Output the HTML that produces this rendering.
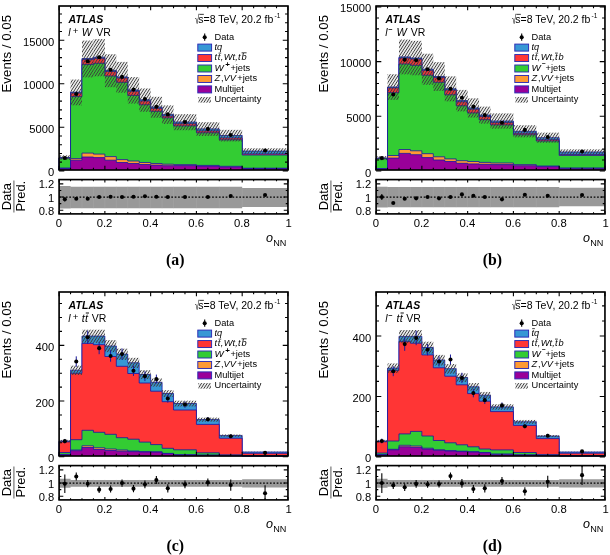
<!DOCTYPE html>
<html lang="en">
<head>
<meta charset="utf-8">
<title>Neural-network output distributions in validation regions</title>
<style>
html,body{margin:0;padding:0;background:#fff;}
body{width:610px;height:555px;overflow:hidden;}
svg{display:block;will-change:transform;}
</style>
</head>
<body>
<svg width="610" height="555" viewBox="0 0 610 555" font-family="'Liberation Sans', Arial, Helvetica, sans-serif" fill="#000">
<defs>
<pattern id="hatch" patternUnits="userSpaceOnUse" width="2.4" height="8" patternTransform="rotate(33)"><line x1="1.2" y1="0" x2="1.2" y2="8" stroke="#3c3c3c" stroke-width="0.98"/></pattern>
<clipPath id="rclip"><rect x="59.1" y="179.6" width="228.85" height="34.3"/></clipPath>
</defs>
<rect width="610" height="555" fill="#fff"/>
<g transform="translate(0,0)">
<polygon points="59.1,170 59.1,157.6 70.54,157.6 70.54,92.1 81.98,92.1 81.98,58.5 93.43,58.5 93.43,57.2 104.87,57.2 104.87,70.3 116.31,70.3 116.31,76.9 127.76,76.9 127.76,90 139.2,90 139.2,99.8 150.64,99.8 150.64,107 162.08,107 162.08,114.4 173.53,114.4 173.53,122 196.41,122 196.41,128.9 219.29,128.9 219.29,135.5 242.18,135.5 242.18,151.1 287.95,151.1 287.95,170" fill="#3797d5"/>
<path d="M59.1 170V157.6H70.54V92.1H81.98V58.5H93.43V57.2H104.87V70.3H116.31V76.9H127.76V90H139.2V99.8H150.64V107H162.08V114.4H173.53V122H196.41V128.9H219.29V135.5H242.18V151.1H287.95V170" fill="none" stroke="#1515a6" stroke-width="0.8"/>
<polygon points="59.1,170 59.1,157.9 70.54,157.9 70.54,93 81.98,93 81.98,59.6 93.43,59.6 93.43,58.3 104.87,58.3 104.87,71.4 116.31,71.4 116.31,78 127.76,78 127.76,91.2 139.2,91.2 139.2,101 150.64,101 150.64,108.3 162.08,108.3 162.08,115.9 173.53,115.9 173.53,123.7 196.41,123.7 196.41,130.9 219.29,130.9 219.29,137.9 242.18,137.9 242.18,153.9 287.95,153.9 287.95,170" fill="#ff3535"/>
<path d="M59.1 170V157.9H70.54V93H81.98V59.6H93.43V58.3H104.87V71.4H116.31V78H127.76V91.2H139.2V101H150.64V108.3H162.08V115.9H173.53V123.7H196.41V130.9H219.29V137.9H242.18V153.9H287.95V170" fill="none" stroke="#1515a6" stroke-width="0.8"/>
<polygon points="59.1,170 59.1,158.2 70.54,158.2 70.54,96.6 81.98,96.6 81.98,64.6 93.43,64.6 93.43,63.3 104.87,63.3 104.87,76 116.31,76 116.31,82.3 127.76,82.3 127.76,95.4 139.2,95.4 139.2,104.8 150.64,104.8 150.64,111.3 162.08,111.3 162.08,117.9 173.53,117.9 173.53,125.9 196.41,125.9 196.41,132.8 219.29,132.8 219.29,139.8 242.18,139.8 242.18,155 287.95,155 287.95,170" fill="#33cc33"/>
<path d="M59.1 170V158.2H70.54V96.6H81.98V64.6H93.43V63.3H104.87V76H116.31V82.3H127.76V95.4H139.2V104.8H150.64V111.3H162.08V117.9H173.53V125.9H196.41V132.8H219.29V139.8H242.18V155H287.95V170" fill="none" stroke="#1515a6" stroke-width="0.8"/>
<polygon points="59.1,170 59.1,168 70.54,168 70.54,158.6 81.98,158.6 81.98,153.1 93.43,153.1 93.43,154.1 104.87,154.1 104.87,156.6 116.31,156.6 116.31,159.6 127.76,159.6 127.76,161 139.2,161 139.2,162.5 150.64,162.5 150.64,163.5 162.08,163.5 162.08,164.2 173.53,164.2 173.53,164.6 196.41,164.6 196.41,165.4 219.29,165.4 219.29,166.3 242.18,166.3 242.18,168.2 287.95,168.2 287.95,170" fill="#ff9a33"/>
<path d="M59.1 170V168H70.54V158.6H81.98V153.1H93.43V154.1H104.87V156.6H116.31V159.6H127.76V161H139.2V162.5H150.64V163.5H162.08V164.2H173.53V164.6H196.41V165.4H219.29V166.3H242.18V168.2H287.95V170" fill="none" stroke="#1515a6" stroke-width="0.8"/>
<polygon points="59.1,170 59.1,168.5 70.54,168.5 70.54,160.2 81.98,160.2 81.98,157 93.43,157 93.43,157.6 104.87,157.6 104.87,160.2 116.31,160.2 116.31,162.5 127.76,162.5 127.76,163.5 139.2,163.5 139.2,164.5 150.64,164.5 150.64,165.1 162.08,165.1 162.08,165.7 173.53,165.7 173.53,165.6 196.41,165.6 196.41,166.1 219.29,166.1 219.29,166.9 242.18,166.9 242.18,168.5 287.95,168.5 287.95,170" fill="#990099"/>
<path d="M59.1 170V168.5H70.54V160.2H81.98V157H93.43V157.6H104.87V160.2H116.31V162.5H127.76V163.5H139.2V164.5H150.64V165.1H162.08V165.7H173.53V165.6H196.41V166.1H219.29V166.9H242.18V168.5H287.95V170" fill="none" stroke="#1515a6" stroke-width="0.8"/>
<rect x="59.1" y="155.33" width="11.44" height="4.54" fill="url(#hatch)"/>
<rect x="70.54" y="79.53" width="11.44" height="25.8" fill="url(#hatch)"/>
<rect x="81.98" y="40.56" width="11.44" height="36.81" fill="url(#hatch)"/>
<rect x="93.43" y="39.06" width="11.44" height="37.24" fill="url(#hatch)"/>
<rect x="104.87" y="54.25" width="11.44" height="32.95" fill="url(#hatch)"/>
<rect x="116.31" y="61.9" width="11.44" height="30.78" fill="url(#hatch)"/>
<rect x="127.76" y="77.09" width="11.44" height="26.49" fill="url(#hatch)"/>
<rect x="139.2" y="88.46" width="11.44" height="23.28" fill="url(#hatch)"/>
<rect x="150.64" y="96.81" width="11.44" height="20.92" fill="url(#hatch)"/>
<rect x="162.08" y="105.39" width="11.44" height="18.5" fill="url(#hatch)"/>
<rect x="173.53" y="114.2" width="22.88" height="16.01" fill="url(#hatch)"/>
<rect x="196.41" y="122.2" width="22.88" height="13.74" fill="url(#hatch)"/>
<rect x="219.29" y="129.86" width="22.89" height="11.58" fill="url(#hatch)"/>
<rect x="242.18" y="148.29" width="45.77" height="5.77" fill="url(#hatch)"/>
<circle cx="64.82" cy="158.06" r="2.05" fill="#000"/>
<circle cx="76.26" cy="94.07" r="2.05" fill="#000"/>
<circle cx="87.71" cy="61.31" r="2.05" fill="#000"/>
<circle cx="99.15" cy="57.2" r="2.05" fill="#000"/>
<circle cx="110.59" cy="69.8" r="2.05" fill="#000"/>
<circle cx="122.03" cy="76.9" r="2.05" fill="#000"/>
<circle cx="133.48" cy="89.6" r="2.05" fill="#000"/>
<circle cx="144.92" cy="98.95" r="2.05" fill="#000"/>
<circle cx="156.36" cy="106.68" r="2.05" fill="#000"/>
<circle cx="167.8" cy="114.4" r="2.05" fill="#000"/>
<circle cx="184.97" cy="122" r="2.05" fill="#000"/>
<circle cx="207.85" cy="128.9" r="2.05" fill="#000"/>
<circle cx="230.74" cy="134.97" r="2.05" fill="#000"/>
<circle cx="265.06" cy="150.51" r="2.05" fill="#000"/>
<rect x="59.1" y="179.6" width="228.85" height="34.3" fill="#fff"/>
<polygon points="59.1,186.09 70.54,186.09 70.54,186.82 81.98,186.82 81.98,186.82 93.43,186.82 93.43,186.82 104.87,186.82 104.87,186.82 116.31,186.82 116.31,186.82 127.76,186.82 127.76,186.82 139.2,186.82 139.2,186.82 150.64,186.82 150.64,186.82 162.08,186.82 162.08,186.82 173.53,186.82 173.53,186.82 196.41,186.82 196.41,186.82 219.29,186.82 219.29,186.82 242.18,186.82 242.18,187.94 287.95,187.94 287.95,206.95 242.18,206.95 242.18,208.14 219.29,208.14 219.29,208.14 196.41,208.14 196.41,208.14 173.53,208.14 173.53,208.14 162.08,208.14 162.08,208.14 150.64,208.14 150.64,208.14 139.2,208.14 139.2,208.14 127.76,208.14 127.76,208.14 116.31,208.14 116.31,208.14 104.87,208.14 104.87,208.14 93.43,208.14 93.43,208.14 81.98,208.14 81.98,208.14 70.54,208.14 70.54,208.4 59.1,208.4" fill="#999"/>
<line x1="70.54" x2="70.54" y1="186.82" y2="208.14" stroke="#a6a6a6" stroke-width="0.5"/>
<line x1="81.98" x2="81.98" y1="186.82" y2="208.14" stroke="#a6a6a6" stroke-width="0.5"/>
<line x1="93.43" x2="93.43" y1="186.82" y2="208.14" stroke="#a6a6a6" stroke-width="0.5"/>
<line x1="104.87" x2="104.87" y1="186.82" y2="208.14" stroke="#a6a6a6" stroke-width="0.5"/>
<line x1="116.31" x2="116.31" y1="186.82" y2="208.14" stroke="#a6a6a6" stroke-width="0.5"/>
<line x1="127.76" x2="127.76" y1="186.82" y2="208.14" stroke="#a6a6a6" stroke-width="0.5"/>
<line x1="139.2" x2="139.2" y1="186.82" y2="208.14" stroke="#a6a6a6" stroke-width="0.5"/>
<line x1="150.64" x2="150.64" y1="186.82" y2="208.14" stroke="#a6a6a6" stroke-width="0.5"/>
<line x1="162.08" x2="162.08" y1="186.82" y2="208.14" stroke="#a6a6a6" stroke-width="0.5"/>
<line x1="173.53" x2="173.53" y1="186.82" y2="208.14" stroke="#a6a6a6" stroke-width="0.5"/>
<line x1="196.41" x2="196.41" y1="186.82" y2="208.14" stroke="#a6a6a6" stroke-width="0.5"/>
<line x1="219.29" x2="219.29" y1="186.82" y2="208.14" stroke="#a6a6a6" stroke-width="0.5"/>
<line x1="242.18" x2="242.18" y1="187.94" y2="206.95" stroke="#a6a6a6" stroke-width="0.5"/>
<line x1="59.1" x2="287.95" y1="197.05" y2="197.05" stroke="#000" stroke-width="1.2" stroke-dasharray="1.7 1.7"/>
<g clip-path="url(#rclip)">
<line x1="64.82" x2="64.82" y1="197.38" y2="201.34" stroke="#000" stroke-width="1.1"/>
<circle cx="64.82" cy="199.36" r="2.05" fill="#000"/>
<circle cx="76.26" cy="198.7" r="2.05" fill="#000"/>
<circle cx="87.71" cy="198.7" r="2.05" fill="#000"/>
<circle cx="99.15" cy="197.05" r="2.05" fill="#000"/>
<circle cx="110.59" cy="196.72" r="2.05" fill="#000"/>
<circle cx="122.03" cy="197.05" r="2.05" fill="#000"/>
<circle cx="133.48" cy="196.72" r="2.05" fill="#000"/>
<circle cx="144.92" cy="196.26" r="2.05" fill="#000"/>
<circle cx="156.36" cy="196.72" r="2.05" fill="#000"/>
<circle cx="167.8" cy="197.05" r="2.05" fill="#000"/>
<circle cx="184.97" cy="197.05" r="2.05" fill="#000"/>
<circle cx="207.85" cy="197.05" r="2.05" fill="#000"/>
<circle cx="230.74" cy="196.06" r="2.05" fill="#000"/>
<circle cx="265.06" cy="195.07" r="2.05" fill="#000"/>
</g>
<path d="M59.1 6v4.2M59.1 170v-4.2M59.1 179.6v3M59.1 213.9v-3M70.54 6v2.2M70.54 170v-2.2M70.54 179.6v1.6M70.54 213.9v-1.6M81.98 6v2.2M81.98 170v-2.2M81.98 179.6v1.6M81.98 213.9v-1.6M93.43 6v2.2M93.43 170v-2.2M93.43 179.6v1.6M93.43 213.9v-1.6M104.87 6v4.2M104.87 170v-4.2M104.87 179.6v3M104.87 213.9v-3M116.31 6v2.2M116.31 170v-2.2M116.31 179.6v1.6M116.31 213.9v-1.6M127.76 6v2.2M127.76 170v-2.2M127.76 179.6v1.6M127.76 213.9v-1.6M139.2 6v2.2M139.2 170v-2.2M139.2 179.6v1.6M139.2 213.9v-1.6M150.64 6v4.2M150.64 170v-4.2M150.64 179.6v3M150.64 213.9v-3M162.08 6v2.2M162.08 170v-2.2M162.08 179.6v1.6M162.08 213.9v-1.6M173.53 6v2.2M173.53 170v-2.2M173.53 179.6v1.6M173.53 213.9v-1.6M184.97 6v2.2M184.97 170v-2.2M184.97 179.6v1.6M184.97 213.9v-1.6M196.41 6v4.2M196.41 170v-4.2M196.41 179.6v3M196.41 213.9v-3M207.85 6v2.2M207.85 170v-2.2M207.85 179.6v1.6M207.85 213.9v-1.6M219.3 6v2.2M219.3 170v-2.2M219.3 179.6v1.6M219.3 213.9v-1.6M230.74 6v2.2M230.74 170v-2.2M230.74 179.6v1.6M230.74 213.9v-1.6M242.18 6v4.2M242.18 170v-4.2M242.18 179.6v3M242.18 213.9v-3M253.62 6v2.2M253.62 170v-2.2M253.62 179.6v1.6M253.62 213.9v-1.6M265.06 6v2.2M265.06 170v-2.2M265.06 179.6v1.6M265.06 213.9v-1.6M276.51 6v2.2M276.51 170v-2.2M276.51 179.6v1.6M276.51 213.9v-1.6M287.95 6v4.2M287.95 170v-4.2M287.95 179.6v3M287.95 213.9v-3M59.1 170.85h5.2M287.95 170.85h-5.2M59.1 162.14h2.9M287.95 162.14h-2.9M59.1 153.43h2.9M287.95 153.43h-2.9M59.1 144.72h2.9M287.95 144.72h-2.9M59.1 136.01h2.9M287.95 136.01h-2.9M59.1 127.3h5.2M287.95 127.3h-5.2M59.1 118.59h2.9M287.95 118.59h-2.9M59.1 109.88h2.9M287.95 109.88h-2.9M59.1 101.17h2.9M287.95 101.17h-2.9M59.1 92.46h2.9M287.95 92.46h-2.9M59.1 83.75h5.2M287.95 83.75h-5.2M59.1 75.04h2.9M287.95 75.04h-2.9M59.1 66.33h2.9M287.95 66.33h-2.9M59.1 57.62h2.9M287.95 57.62h-2.9M59.1 48.91h2.9M287.95 48.91h-2.9M59.1 40.2h5.2M287.95 40.2h-5.2M59.1 31.49h2.9M287.95 31.49h-2.9M59.1 22.78h2.9M287.95 22.78h-2.9M59.1 14.07h2.9M287.95 14.07h-2.9M59.1 210.25h4.2M287.95 210.25h-4.2M59.1 203.65h2.2M287.95 203.65h-2.2M59.1 197.05h4.2M287.95 197.05h-4.2M59.1 190.45h2.2M287.95 190.45h-2.2M59.1 183.85h4.2M287.95 183.85h-4.2" stroke="#000" stroke-width="1.1" fill="none"/>
<rect x="59.1" y="6" width="228.85" height="164" fill="none" stroke="#000" stroke-width="1.65"/>
<rect x="59.1" y="179.6" width="228.85" height="34.3" fill="none" stroke="#000" stroke-width="1.65"/>
<text x="54.2" y="176.45" font-size="11.2" text-anchor="end">0</text>
<text x="54.2" y="132.9" font-size="11.2" text-anchor="end">5000</text>
<text x="54.2" y="89.35" font-size="11.2" text-anchor="end">10000</text>
<text x="54.2" y="45.8" font-size="11.2" text-anchor="end">15000</text>
<text x="54.2" y="188.35" font-size="11.2" text-anchor="end">1.2</text>
<text x="54.2" y="201.55" font-size="11.2" text-anchor="end">1</text>
<text x="54.2" y="214.75" font-size="11.2" text-anchor="end">0.8</text>
<text x="58.8" y="227.3" font-size="11.3" text-anchor="middle">0</text>
<text x="104.57" y="227.3" font-size="11.3" text-anchor="middle">0.2</text>
<text x="150.34" y="227.3" font-size="11.3" text-anchor="middle">0.4</text>
<text x="196.11" y="227.3" font-size="11.3" text-anchor="middle">0.6</text>
<text x="241.88" y="227.3" font-size="11.3" text-anchor="middle">0.8</text>
<text x="288.55" y="227.3" font-size="11.3" text-anchor="middle">1</text>
<text transform="translate(11.3,14.9) rotate(-90)" font-size="13.3" text-anchor="end">Events / 0.05</text>
<text transform="translate(11.2,196.6) rotate(-90)" font-size="12.9" text-anchor="middle">Data</text>
<line x1="13.9" x2="13.9" y1="180.6" y2="212.4" stroke="#777" stroke-width="1.2"/>
<text transform="translate(25.4,196.2) rotate(-90)" font-size="12.9" text-anchor="middle">Pred.</text>
<text x="265.9" y="241.7" font-size="12.6" font-style="italic">o</text>
<text x="273.3" y="245.8" font-size="9.1">NN</text>
<text x="175.3" y="265" font-size="15.8" font-weight="bold" text-anchor="middle" font-family="'Liberation Serif', 'Times New Roman', serif">(a)</text>
<text x="68.5" y="22.5" font-size="10.5" font-style="italic" font-weight="bold" letter-spacing="0.15">ATLAS</text>
<text x="68.2" y="35.6" font-size="10.5" font-style="italic">l</text>
<text x="72.7" y="33.5" font-size="9.6">+</text>
<text x="81.8" y="35.6" font-size="10.9" font-style="italic">W</text>
<text x="96.2" y="35.6" font-size="10.5">VR</text>
<text transform="translate(195.0,24.2) scale(0.66,1.12)" font-size="11.5">√</text>
<line x1="199.3" x2="203.8" y1="14.35" y2="14.35" stroke="#000" stroke-width="0.8"/>
<text x="198.3" y="22.7" font-size="10.5">s=8 TeV, 20.2 fb</text>
<text x="274.5" y="18" font-size="6.6">-1</text>
<line x1="204.7" x2="204.7" y1="33.6" y2="40.8" stroke="#000" stroke-width="1.1"/>
<circle cx="204.7" cy="37.2" r="2.05" fill="#000"/>
<text x="214.5" y="39.7" font-size="9.25">Data</text>
<rect x="197.8" y="44.1" width="13.8" height="7.0" fill="#3797d5" stroke="#2a2ab4" stroke-width="0.95"/>
<rect x="197.8" y="54.55" width="13.8" height="7.0" fill="#ff3535" stroke="#2a2ab4" stroke-width="0.95"/>
<rect x="197.8" y="65" width="13.8" height="7.0" fill="#33cc33" stroke="#2a2ab4" stroke-width="0.95"/>
<rect x="197.8" y="75.45" width="13.8" height="7.0" fill="#ff9a33" stroke="#2a2ab4" stroke-width="0.95"/>
<rect x="197.8" y="85.9" width="13.8" height="7.0" fill="#990099" stroke="#2a2ab4" stroke-width="0.95"/>
<rect x="198.4" y="97.05" width="12.6" height="5.6" fill="url(#hatch)"/>
<text x="214.5" y="49.95" font-size="9.25" font-style="italic">tq</text>
<text x="214.5" y="60.4" font-size="9.25" font-style="italic" letter-spacing="0.2">t<tspan dx="0.5">t</tspan><tspan dx="0.3">,Wt,t</tspan><tspan dx="0.5">b</tspan></text>
<line x1="218.6" x2="221.2" y1="53.1" y2="53.1" stroke="#000" stroke-width="0.75"/>
<line x1="241.6" x2="246.6" y1="52.8" y2="52.8" stroke="#000" stroke-width="0.75"/>
<text x="214.4" y="70.85" font-size="9.8" font-style="italic">W</text>
<text x="225.2" y="67.45" font-size="8" font-weight="bold">+</text>
<text x="230.4" y="70.85" font-size="9.25">+jets</text>
<text x="214.5" y="81.3" font-size="9.25"><tspan font-style="italic">Z</tspan><tspan dx="0.8">,</tspan><tspan font-style="italic">VV</tspan><tspan dx="1.4">+jets</tspan></text>
<text x="214.5" y="91.75" font-size="9.25">Multijet</text>
<text x="214.5" y="102.2" font-size="9.25">Uncertainty</text>
</g>
<g transform="translate(317,0)">
<polygon points="59.1,170 59.1,158.1 70.54,158.1 70.54,87 81.98,87 81.98,56.9 93.43,56.9 93.43,58 104.87,58 104.87,69.2 116.31,69.2 116.31,76.5 127.76,76.5 127.76,88.8 139.2,88.8 139.2,100.6 150.64,100.6 150.64,107.9 162.08,107.9 162.08,115.1 173.53,115.1 173.53,121 196.41,121 196.41,131.3 219.29,131.3 219.29,137.7 242.18,137.7 242.18,152 287.95,152 287.95,170" fill="#3797d5"/>
<path d="M59.1 170V158.1H70.54V87H81.98V56.9H93.43V58H104.87V69.2H116.31V76.5H127.76V88.8H139.2V100.6H150.64V107.9H162.08V115.1H173.53V121H196.41V131.3H219.29V137.7H242.18V152H287.95V170" fill="none" stroke="#1515a6" stroke-width="0.8"/>
<polygon points="59.1,170 59.1,158.4 70.54,158.4 70.54,87.9 81.98,87.9 81.98,58 93.43,58 93.43,59.1 104.87,59.1 104.87,70.3 116.31,70.3 116.31,77.6 127.76,77.6 127.76,90 139.2,90 139.2,101.8 150.64,101.8 150.64,109.2 162.08,109.2 162.08,116.6 173.53,116.6 173.53,122.6 196.41,122.6 196.41,133.2 219.29,133.2 219.29,139.7 242.18,139.7 242.18,154.4 287.95,154.4 287.95,170" fill="#ff3535"/>
<path d="M59.1 170V158.4H70.54V87.9H81.98V58H93.43V59.1H104.87V70.3H116.31V77.6H127.76V90H139.2V101.8H150.64V109.2H162.08V116.6H173.53V122.6H196.41V133.2H219.29V139.7H242.18V154.4H287.95V170" fill="none" stroke="#1515a6" stroke-width="0.8"/>
<polygon points="59.1,170 59.1,158.6 70.54,158.6 70.54,92.7 81.98,92.7 81.98,64 93.43,64 93.43,65.3 104.87,65.3 104.87,75.2 116.31,75.2 116.31,82.3 127.76,82.3 127.76,94.8 139.2,94.8 139.2,105.8 150.64,105.8 150.64,112.9 162.08,112.9 162.08,119.7 173.53,119.7 173.53,124.9 196.41,124.9 196.41,134.8 219.29,134.8 219.29,141 242.18,141 242.18,155.4 287.95,155.4 287.95,170" fill="#33cc33"/>
<path d="M59.1 170V158.6H70.54V92.7H81.98V64H93.43V65.3H104.87V75.2H116.31V82.3H127.76V94.8H139.2V105.8H150.64V112.9H162.08V119.7H173.53V124.9H196.41V134.8H219.29V141H242.18V155.4H287.95V170" fill="none" stroke="#1515a6" stroke-width="0.8"/>
<polygon points="59.1,170 59.1,168.5 70.54,168.5 70.54,155.5 81.98,155.5 81.98,149.5 93.43,149.5 93.43,150.8 104.87,150.8 104.87,153.7 116.31,153.7 116.31,156.8 127.76,156.8 127.76,158.9 139.2,158.9 139.2,160.7 150.64,160.7 150.64,161.5 162.08,161.5 162.08,162.4 173.53,162.4 173.53,163 196.41,163 196.41,164.6 219.29,164.6 219.29,166 242.18,166 242.18,168 287.95,168 287.95,170" fill="#ff9a33"/>
<path d="M59.1 170V168.5H70.54V155.5H81.98V149.5H93.43V150.8H104.87V153.7H116.31V156.8H127.76V158.9H139.2V160.7H150.64V161.5H162.08V162.4H173.53V163H196.41V164.6H219.29V166H242.18V168H287.95V170" fill="none" stroke="#1515a6" stroke-width="0.8"/>
<polygon points="59.1,170 59.1,169 70.54,169 70.54,158.1 81.98,158.1 81.98,153.4 93.43,153.4 93.43,154.7 104.87,154.7 104.87,157.6 116.31,157.6 116.31,160 127.76,160 127.76,161.5 139.2,161.5 139.2,163.3 150.64,163.3 150.64,163.9 162.08,163.9 162.08,164.3 173.53,164.3 173.53,164.6 196.41,164.6 196.41,165.7 219.29,165.7 219.29,166.6 242.18,166.6 242.18,168.4 287.95,168.4 287.95,170" fill="#990099"/>
<path d="M59.1 170V169H70.54V158.1H81.98V153.4H93.43V154.7H104.87V157.6H116.31V160H127.76V161.5H139.2V163.3H150.64V163.9H162.08V164.3H173.53V164.6H196.41V165.7H219.29V166.6H242.18V168.4H287.95V170" fill="none" stroke="#1515a6" stroke-width="0.8"/>
<rect x="59.1" y="156.1" width="11.44" height="4.03" fill="url(#hatch)"/>
<rect x="70.54" y="74.24" width="11.44" height="25.6" fill="url(#hatch)"/>
<rect x="81.98" y="39.56" width="11.44" height="34.79" fill="url(#hatch)"/>
<rect x="93.43" y="40.83" width="11.44" height="34.45" fill="url(#hatch)"/>
<rect x="104.87" y="53.73" width="11.44" height="31.03" fill="url(#hatch)"/>
<rect x="116.31" y="62.14" width="11.44" height="28.81" fill="url(#hatch)"/>
<rect x="127.76" y="76.31" width="11.44" height="25.06" fill="url(#hatch)"/>
<rect x="139.2" y="89.91" width="11.44" height="21.46" fill="url(#hatch)"/>
<rect x="150.64" y="98.32" width="11.44" height="19.23" fill="url(#hatch)"/>
<rect x="162.08" y="106.61" width="11.44" height="17.03" fill="url(#hatch)"/>
<rect x="173.53" y="113.41" width="22.88" height="15.23" fill="url(#hatch)"/>
<rect x="196.41" y="125.27" width="22.88" height="12.09" fill="url(#hatch)"/>
<rect x="219.29" y="132.65" width="22.89" height="10.14" fill="url(#hatch)"/>
<rect x="242.18" y="149.35" width="45.77" height="5.31" fill="url(#hatch)"/>
<circle cx="64.82" cy="158.1" r="2.05" fill="#000"/>
<circle cx="76.26" cy="94.56" r="2.05" fill="#000"/>
<circle cx="87.71" cy="59.75" r="2.05" fill="#000"/>
<circle cx="99.15" cy="60.26" r="2.05" fill="#000"/>
<circle cx="110.59" cy="69.2" r="2.05" fill="#000"/>
<circle cx="122.03" cy="78.39" r="2.05" fill="#000"/>
<circle cx="133.48" cy="88.8" r="2.05" fill="#000"/>
<circle cx="144.92" cy="97.79" r="2.05" fill="#000"/>
<circle cx="156.36" cy="106.64" r="2.05" fill="#000"/>
<circle cx="167.8" cy="115.1" r="2.05" fill="#000"/>
<circle cx="184.97" cy="122.75" r="2.05" fill="#000"/>
<circle cx="207.85" cy="129.91" r="2.05" fill="#000"/>
<circle cx="230.74" cy="137.03" r="2.05" fill="#000"/>
<circle cx="265.06" cy="151.43" r="2.05" fill="#000"/>
<rect x="59.1" y="179.6" width="228.85" height="34.3" fill="#fff"/>
<polygon points="59.1,186.75 70.54,186.75 70.54,187.02 81.98,187.02 81.98,187.02 93.43,187.02 93.43,187.02 104.87,187.02 104.87,187.02 116.31,187.02 116.31,187.02 127.76,187.02 127.76,187.02 139.2,187.02 139.2,187.02 150.64,187.02 150.64,187.02 162.08,187.02 162.08,187.02 173.53,187.02 173.53,187.02 196.41,187.02 196.41,187.02 219.29,187.02 219.29,187.02 242.18,187.02 242.18,187.81 287.95,187.81 287.95,206.29 242.18,206.29 242.18,207.15 219.29,207.15 219.29,207.15 196.41,207.15 196.41,207.15 173.53,207.15 173.53,207.15 162.08,207.15 162.08,207.15 150.64,207.15 150.64,207.15 139.2,207.15 139.2,207.15 127.76,207.15 127.76,207.15 116.31,207.15 116.31,207.15 104.87,207.15 104.87,207.15 93.43,207.15 93.43,207.15 81.98,207.15 81.98,207.15 70.54,207.15 70.54,207.48 59.1,207.48" fill="#999"/>
<line x1="70.54" x2="70.54" y1="187.02" y2="207.15" stroke="#a6a6a6" stroke-width="0.5"/>
<line x1="81.98" x2="81.98" y1="187.02" y2="207.15" stroke="#a6a6a6" stroke-width="0.5"/>
<line x1="93.43" x2="93.43" y1="187.02" y2="207.15" stroke="#a6a6a6" stroke-width="0.5"/>
<line x1="104.87" x2="104.87" y1="187.02" y2="207.15" stroke="#a6a6a6" stroke-width="0.5"/>
<line x1="116.31" x2="116.31" y1="187.02" y2="207.15" stroke="#a6a6a6" stroke-width="0.5"/>
<line x1="127.76" x2="127.76" y1="187.02" y2="207.15" stroke="#a6a6a6" stroke-width="0.5"/>
<line x1="139.2" x2="139.2" y1="187.02" y2="207.15" stroke="#a6a6a6" stroke-width="0.5"/>
<line x1="150.64" x2="150.64" y1="187.02" y2="207.15" stroke="#a6a6a6" stroke-width="0.5"/>
<line x1="162.08" x2="162.08" y1="187.02" y2="207.15" stroke="#a6a6a6" stroke-width="0.5"/>
<line x1="173.53" x2="173.53" y1="187.02" y2="207.15" stroke="#a6a6a6" stroke-width="0.5"/>
<line x1="196.41" x2="196.41" y1="187.02" y2="207.15" stroke="#a6a6a6" stroke-width="0.5"/>
<line x1="219.29" x2="219.29" y1="187.02" y2="207.15" stroke="#a6a6a6" stroke-width="0.5"/>
<line x1="242.18" x2="242.18" y1="187.81" y2="206.29" stroke="#a6a6a6" stroke-width="0.5"/>
<line x1="59.1" x2="287.95" y1="197.05" y2="197.05" stroke="#000" stroke-width="1.2" stroke-dasharray="1.7 1.7"/>
<g clip-path="url(#rclip)">
<line x1="64.82" x2="64.82" y1="194.08" y2="200.02" stroke="#000" stroke-width="1.1"/>
<circle cx="64.82" cy="197.05" r="2.05" fill="#000"/>
<circle cx="76.26" cy="202.99" r="2.05" fill="#000"/>
<circle cx="87.71" cy="198.7" r="2.05" fill="#000"/>
<circle cx="99.15" cy="198.37" r="2.05" fill="#000"/>
<circle cx="110.59" cy="197.05" r="2.05" fill="#000"/>
<circle cx="122.03" cy="198.37" r="2.05" fill="#000"/>
<circle cx="133.48" cy="197.05" r="2.05" fill="#000"/>
<circle cx="144.92" cy="194.41" r="2.05" fill="#000"/>
<circle cx="156.36" cy="195.73" r="2.05" fill="#000"/>
<circle cx="167.8" cy="197.05" r="2.05" fill="#000"/>
<circle cx="184.97" cy="199.36" r="2.05" fill="#000"/>
<circle cx="207.85" cy="194.74" r="2.05" fill="#000"/>
<circle cx="230.74" cy="195.73" r="2.05" fill="#000"/>
<circle cx="265.06" cy="195.07" r="2.05" fill="#000"/>
</g>
<path d="M59.1 6v4.2M59.1 170v-4.2M59.1 179.6v3M59.1 213.9v-3M70.54 6v2.2M70.54 170v-2.2M70.54 179.6v1.6M70.54 213.9v-1.6M81.98 6v2.2M81.98 170v-2.2M81.98 179.6v1.6M81.98 213.9v-1.6M93.43 6v2.2M93.43 170v-2.2M93.43 179.6v1.6M93.43 213.9v-1.6M104.87 6v4.2M104.87 170v-4.2M104.87 179.6v3M104.87 213.9v-3M116.31 6v2.2M116.31 170v-2.2M116.31 179.6v1.6M116.31 213.9v-1.6M127.76 6v2.2M127.76 170v-2.2M127.76 179.6v1.6M127.76 213.9v-1.6M139.2 6v2.2M139.2 170v-2.2M139.2 179.6v1.6M139.2 213.9v-1.6M150.64 6v4.2M150.64 170v-4.2M150.64 179.6v3M150.64 213.9v-3M162.08 6v2.2M162.08 170v-2.2M162.08 179.6v1.6M162.08 213.9v-1.6M173.53 6v2.2M173.53 170v-2.2M173.53 179.6v1.6M173.53 213.9v-1.6M184.97 6v2.2M184.97 170v-2.2M184.97 179.6v1.6M184.97 213.9v-1.6M196.41 6v4.2M196.41 170v-4.2M196.41 179.6v3M196.41 213.9v-3M207.85 6v2.2M207.85 170v-2.2M207.85 179.6v1.6M207.85 213.9v-1.6M219.3 6v2.2M219.3 170v-2.2M219.3 179.6v1.6M219.3 213.9v-1.6M230.74 6v2.2M230.74 170v-2.2M230.74 179.6v1.6M230.74 213.9v-1.6M242.18 6v4.2M242.18 170v-4.2M242.18 179.6v3M242.18 213.9v-3M253.62 6v2.2M253.62 170v-2.2M253.62 179.6v1.6M253.62 213.9v-1.6M265.06 6v2.2M265.06 170v-2.2M265.06 179.6v1.6M265.06 213.9v-1.6M276.51 6v2.2M276.51 170v-2.2M276.51 179.6v1.6M276.51 213.9v-1.6M287.95 6v4.2M287.95 170v-4.2M287.95 179.6v3M287.95 213.9v-3M59.1 170.95h5.2M287.95 170.95h-5.2M59.1 160.02h2.9M287.95 160.02h-2.9M59.1 149.09h2.9M287.95 149.09h-2.9M59.1 138.16h2.9M287.95 138.16h-2.9M59.1 127.23h2.9M287.95 127.23h-2.9M59.1 116.3h5.2M287.95 116.3h-5.2M59.1 105.37h2.9M287.95 105.37h-2.9M59.1 94.44h2.9M287.95 94.44h-2.9M59.1 83.51h2.9M287.95 83.51h-2.9M59.1 72.58h2.9M287.95 72.58h-2.9M59.1 61.65h5.2M287.95 61.65h-5.2M59.1 50.72h2.9M287.95 50.72h-2.9M59.1 39.79h2.9M287.95 39.79h-2.9M59.1 28.86h2.9M287.95 28.86h-2.9M59.1 17.93h2.9M287.95 17.93h-2.9M59.1 7h5.2M287.95 7h-5.2M59.1 210.25h4.2M287.95 210.25h-4.2M59.1 203.65h2.2M287.95 203.65h-2.2M59.1 197.05h4.2M287.95 197.05h-4.2M59.1 190.45h2.2M287.95 190.45h-2.2M59.1 183.85h4.2M287.95 183.85h-4.2" stroke="#000" stroke-width="1.1" fill="none"/>
<rect x="59.1" y="6" width="228.85" height="164" fill="none" stroke="#000" stroke-width="1.65"/>
<rect x="59.1" y="179.6" width="228.85" height="34.3" fill="none" stroke="#000" stroke-width="1.65"/>
<text x="54.2" y="176.55" font-size="11.2" text-anchor="end">0</text>
<text x="54.2" y="121.9" font-size="11.2" text-anchor="end">5000</text>
<text x="54.2" y="67.25" font-size="11.2" text-anchor="end">10000</text>
<text x="54.2" y="11.5" font-size="11.2" text-anchor="end">15000</text>
<text x="54.2" y="188.35" font-size="11.2" text-anchor="end">1.2</text>
<text x="54.2" y="201.55" font-size="11.2" text-anchor="end">1</text>
<text x="54.2" y="214.75" font-size="11.2" text-anchor="end">0.8</text>
<text x="58.8" y="227.3" font-size="11.3" text-anchor="middle">0</text>
<text x="104.57" y="227.3" font-size="11.3" text-anchor="middle">0.2</text>
<text x="150.34" y="227.3" font-size="11.3" text-anchor="middle">0.4</text>
<text x="196.11" y="227.3" font-size="11.3" text-anchor="middle">0.6</text>
<text x="241.88" y="227.3" font-size="11.3" text-anchor="middle">0.8</text>
<text x="288.55" y="227.3" font-size="11.3" text-anchor="middle">1</text>
<text transform="translate(11.3,14.9) rotate(-90)" font-size="13.3" text-anchor="end">Events / 0.05</text>
<text transform="translate(11.2,196.6) rotate(-90)" font-size="12.9" text-anchor="middle">Data</text>
<line x1="13.9" x2="13.9" y1="180.6" y2="212.4" stroke="#777" stroke-width="1.2"/>
<text transform="translate(25.4,196.2) rotate(-90)" font-size="12.9" text-anchor="middle">Pred.</text>
<text x="265.9" y="241.7" font-size="12.6" font-style="italic">o</text>
<text x="273.3" y="245.8" font-size="9.1">NN</text>
<text x="175.3" y="265" font-size="15.8" font-weight="bold" text-anchor="middle" font-family="'Liberation Serif', 'Times New Roman', serif">(b)</text>
<text x="68.5" y="22.5" font-size="10.5" font-style="italic" font-weight="bold" letter-spacing="0.15">ATLAS</text>
<text x="68.2" y="35.6" font-size="10.5" font-style="italic">l</text>
<text x="71.2" y="31.5" font-size="7.2" font-weight="bold">−</text>
<text x="79.6" y="35.6" font-size="10.9" font-style="italic">W</text>
<text x="93.8" y="35.6" font-size="10.5">VR</text>
<text transform="translate(195.0,24.2) scale(0.66,1.12)" font-size="11.5">√</text>
<line x1="199.3" x2="203.8" y1="14.35" y2="14.35" stroke="#000" stroke-width="0.8"/>
<text x="198.3" y="22.7" font-size="10.5">s=8 TeV, 20.2 fb</text>
<text x="274.5" y="18" font-size="6.6">-1</text>
<line x1="204.7" x2="204.7" y1="33.6" y2="40.8" stroke="#000" stroke-width="1.1"/>
<circle cx="204.7" cy="37.2" r="2.05" fill="#000"/>
<text x="214.5" y="39.7" font-size="9.25">Data</text>
<rect x="197.8" y="44.1" width="13.8" height="7.0" fill="#3797d5" stroke="#2a2ab4" stroke-width="0.95"/>
<rect x="197.8" y="54.55" width="13.8" height="7.0" fill="#ff3535" stroke="#2a2ab4" stroke-width="0.95"/>
<rect x="197.8" y="65" width="13.8" height="7.0" fill="#33cc33" stroke="#2a2ab4" stroke-width="0.95"/>
<rect x="197.8" y="75.45" width="13.8" height="7.0" fill="#ff9a33" stroke="#2a2ab4" stroke-width="0.95"/>
<rect x="197.8" y="85.9" width="13.8" height="7.0" fill="#990099" stroke="#2a2ab4" stroke-width="0.95"/>
<rect x="198.4" y="97.05" width="12.6" height="5.6" fill="url(#hatch)"/>
<text x="214.5" y="49.95" font-size="9.25" font-style="italic">tq</text>
<text x="214.5" y="60.4" font-size="9.25" font-style="italic" letter-spacing="0.2">t<tspan dx="0.5">t</tspan><tspan dx="0.3">,Wt,t</tspan><tspan dx="0.5">b</tspan></text>
<line x1="218.6" x2="221.2" y1="53.1" y2="53.1" stroke="#000" stroke-width="0.75"/>
<line x1="238.0" x2="240.8" y1="53.1" y2="53.1" stroke="#000" stroke-width="0.75"/>
<text x="214.4" y="70.85" font-size="9.8" font-style="italic">W</text>
<text x="225" y="66.25" font-size="6.6" font-weight="bold">−</text>
<text x="228.6" y="70.85" font-size="9.25">+jets</text>
<text x="214.5" y="81.3" font-size="9.25"><tspan font-style="italic">Z</tspan><tspan dx="0.8">,</tspan><tspan font-style="italic">VV</tspan><tspan dx="1.4">+jets</tspan></text>
<text x="214.5" y="91.75" font-size="9.25">Multijet</text>
<text x="214.5" y="102.2" font-size="9.25">Uncertainty</text>
</g>
<g transform="translate(0,286)">
<polygon points="59.1,170 59.1,155 70.54,155 70.54,84.2 81.98,84.2 81.98,50.1 93.43,50.1 93.43,50.1 104.87,50.1 104.87,60 116.31,60 116.31,68.1 127.76,68.1 127.76,76.8 139.2,76.8 139.2,88.5 150.64,88.5 150.64,96.4 162.08,96.4 162.08,107.5 173.53,107.5 173.53,117.5 196.41,117.5 196.41,133.6 219.29,133.6 219.29,149.6 242.18,149.6 242.18,166 287.95,166 287.95,170" fill="#3797d5"/>
<path d="M59.1 170V155H70.54V84.2H81.98V50.1H93.43V50.1H104.87V60H116.31V68.1H127.76V76.8H139.2V88.5H150.64V96.4H162.08V107.5H173.53V117.5H196.41V133.6H219.29V149.6H242.18V166H287.95V170" fill="none" stroke="#1515a6" stroke-width="0.8"/>
<polygon points="59.1,170 59.1,155.8 70.54,155.8 70.54,87.3 81.98,87.3 81.98,57.4 93.43,57.4 93.43,58.7 104.87,58.7 104.87,70.5 116.31,70.5 116.31,80.3 127.76,80.3 127.76,87.5 139.2,87.5 139.2,97 150.64,97 150.64,105.2 162.08,105.2 162.08,115.7 173.53,115.7 173.53,124 196.41,124 196.41,138.4 219.29,138.4 219.29,152.2 242.18,152.2 242.18,167.3 287.95,167.3 287.95,170" fill="#ff3535"/>
<path d="M59.1 170V155.8H70.54V87.3H81.98V57.4H93.43V58.7H104.87V70.5H116.31V80.3H127.76V87.5H139.2V97H150.64V105.2H162.08V115.7H173.53V124H196.41V138.4H219.29V152.2H242.18V167.3H287.95V170" fill="none" stroke="#1515a6" stroke-width="0.8"/>
<polygon points="59.1,170 59.1,166.5 70.54,166.5 70.54,153.7 81.98,153.7 81.98,144.3 93.43,144.3 93.43,146.3 104.87,146.3 104.87,148.3 116.31,148.3 116.31,151.7 127.76,151.7 127.76,153.2 139.2,153.2 139.2,156.1 150.64,156.1 150.64,158.6 162.08,158.6 162.08,162.3 173.53,162.3 173.53,163.8 196.41,163.8 196.41,166.8 219.29,166.8 219.29,168.8 242.18,168.8 242.18,169.8 287.95,169.8 287.95,170" fill="#33cc33"/>
<path d="M59.1 170V166.5H70.54V153.7H81.98V144.3H93.43V146.3H104.87V148.3H116.31V151.7H127.76V153.2H139.2V156.1H150.64V158.6H162.08V162.3H173.53V163.8H196.41V166.8H219.29V168.8H242.18V169.8H287.95V170" fill="none" stroke="#1515a6" stroke-width="0.8"/>
<polygon points="59.1,170 59.1,168.4 70.54,168.4 70.54,164 81.98,164 81.98,159.8 93.43,159.8 93.43,161.8 104.87,161.8 104.87,163 116.31,163 116.31,164 127.76,164 127.76,165 139.2,165 139.2,165.6 150.64,165.6 150.64,165.8 162.08,165.8 162.08,167.4 173.53,167.4 173.53,168.6 196.41,168.6 196.41,169 219.29,169 219.29,169.6 242.18,169.6 242.18,170 287.95,170 287.95,170" fill="#ff9a33"/>
<path d="M59.1 170V168.4H70.54V164H81.98V159.8H93.43V161.8H104.87V163H116.31V164H127.76V165H139.2V165.6H150.64V165.8H162.08V167.4H173.53V168.6H196.41V169H219.29V169.6H242.18V170H287.95V170" fill="none" stroke="#1515a6" stroke-width="0.8"/>
<polygon points="59.1,170 59.1,168.8 70.54,168.8 70.54,164.7 81.98,164.7 81.98,161.5 93.43,161.5 93.43,163.5 104.87,163.5 104.87,164.5 116.31,164.5 116.31,165.2 127.76,165.2 127.76,165.6 139.2,165.6 139.2,166 150.64,166 150.64,166.1 162.08,166.1 162.08,167.7 173.53,167.7 173.53,169 196.41,169 196.41,169.3 219.29,169.3 219.29,169.8 242.18,169.8 242.18,170 287.95,170 287.95,170" fill="#990099"/>
<path d="M59.1 170V168.8H70.54V164.7H81.98V161.5H93.43V163.5H104.87V164.5H116.31V165.2H127.76V165.6H139.2V166H150.64V166.1H162.08V167.7H173.53V169H196.41V169.3H219.29V169.8H242.18V170H287.95V170" fill="none" stroke="#1515a6" stroke-width="0.8"/>
<rect x="59.1" y="153.87" width="11.44" height="2.26" fill="url(#hatch)"/>
<rect x="70.54" y="79.63" width="11.44" height="9.42" fill="url(#hatch)"/>
<rect x="81.98" y="43.73" width="11.44" height="13.13" fill="url(#hatch)"/>
<rect x="93.43" y="43.73" width="11.44" height="13.13" fill="url(#hatch)"/>
<rect x="104.87" y="54.15" width="11.44" height="12.05" fill="url(#hatch)"/>
<rect x="116.31" y="62.68" width="11.44" height="11.17" fill="url(#hatch)"/>
<rect x="127.76" y="71.84" width="11.44" height="10.22" fill="url(#hatch)"/>
<rect x="139.2" y="84.16" width="11.44" height="8.95" fill="url(#hatch)"/>
<rect x="150.64" y="92.47" width="11.44" height="8.09" fill="url(#hatch)"/>
<rect x="162.08" y="104.16" width="11.44" height="6.88" fill="url(#hatch)"/>
<rect x="173.53" y="114.69" width="22.88" height="5.79" fill="url(#hatch)"/>
<rect x="196.41" y="131.64" width="22.88" height="4.04" fill="url(#hatch)"/>
<rect x="219.29" y="148.48" width="22.89" height="2.3" fill="url(#hatch)"/>
<rect x="242.18" y="165.7" width="45.77" height="0.62" fill="url(#hatch)"/>
<line x1="64.82" x2="64.82" y1="152.95" y2="157.36" stroke="#1a1a9c" stroke-width="1"/>
<circle cx="64.82" cy="155.16" r="2.05" fill="#000"/>
<line x1="76.26" x2="76.26" y1="70.35" y2="80.74" stroke="#1a1a9c" stroke-width="1"/>
<circle cx="76.26" cy="75.55" r="2.05" fill="#000"/>
<line x1="87.71" x2="87.71" y1="44.67" y2="57.94" stroke="#1a1a9c" stroke-width="1"/>
<circle cx="87.71" cy="51.31" r="2.05" fill="#000"/>
<line x1="99.15" x2="99.15" y1="56.13" y2="68.2" stroke="#1a1a9c" stroke-width="1"/>
<circle cx="99.15" cy="62.16" r="2.05" fill="#000"/>
<line x1="110.59" x2="110.59" y1="64.21" y2="75.73" stroke="#1a1a9c" stroke-width="1"/>
<circle cx="110.59" cy="69.97" r="2.05" fill="#000"/>
<line x1="122.03" x2="122.03" y1="62.45" y2="73.75" stroke="#1a1a9c" stroke-width="1"/>
<circle cx="122.03" cy="68.1" r="2.05" fill="#000"/>
<line x1="133.48" x2="133.48" y1="79.62" y2="89.95" stroke="#1a1a9c" stroke-width="1"/>
<circle cx="133.48" cy="84.79" r="2.05" fill="#000"/>
<line x1="144.92" x2="144.92" y1="85.21" y2="95.08" stroke="#1a1a9c" stroke-width="1"/>
<circle cx="144.92" cy="90.14" r="2.05" fill="#000"/>
<line x1="156.36" x2="156.36" y1="88.59" y2="97.52" stroke="#1a1a9c" stroke-width="1"/>
<circle cx="156.36" cy="93.05" r="2.05" fill="#000"/>
<line x1="167.8" x2="167.8" y1="108.58" y2="116.54" stroke="#1a1a9c" stroke-width="1"/>
<circle cx="167.8" cy="112.56" r="2.05" fill="#000"/>
<line x1="184.97" x2="184.97" y1="115.37" y2="121.76" stroke="#1a1a9c" stroke-width="1"/>
<circle cx="184.97" cy="118.56" r="2.05" fill="#000"/>
<line x1="207.85" x2="207.85" y1="131" y2="135.46" stroke="#1a1a9c" stroke-width="1"/>
<circle cx="207.85" cy="133.23" r="2.05" fill="#000"/>
<line x1="230.74" x2="230.74" y1="148.44" y2="152.03" stroke="#1a1a9c" stroke-width="1"/>
<circle cx="230.74" cy="150.23" r="2.05" fill="#000"/>
<circle cx="265.06" cy="166.74" r="2.05" fill="#000"/>
<rect x="59.1" y="179.6" width="228.85" height="34.3" fill="#fff"/>
<polygon points="59.1,192.76 70.54,192.76 70.54,193.88 81.98,193.88 81.98,193.88 93.43,193.88 93.43,193.88 104.87,193.88 104.87,193.88 116.31,193.88 116.31,193.88 127.76,193.88 127.76,193.88 139.2,193.88 139.2,193.88 150.64,193.88 150.64,193.88 162.08,193.88 162.08,193.88 173.53,193.88 173.53,193.88 196.41,193.88 196.41,193.88 219.29,193.88 219.29,193.88 242.18,193.88 242.18,193.22 287.95,193.22 287.95,201.41 242.18,201.41 242.18,200.75 219.29,200.75 219.29,200.75 196.41,200.75 196.41,200.75 173.53,200.75 173.53,200.75 162.08,200.75 162.08,200.75 150.64,200.75 150.64,200.75 139.2,200.75 139.2,200.75 127.76,200.75 127.76,200.75 116.31,200.75 116.31,200.75 104.87,200.75 104.87,200.75 93.43,200.75 93.43,200.75 81.98,200.75 81.98,200.75 70.54,200.75 70.54,201.8 59.1,201.8" fill="#999"/>
<line x1="70.54" x2="70.54" y1="193.88" y2="200.75" stroke="#a6a6a6" stroke-width="0.5"/>
<line x1="81.98" x2="81.98" y1="193.88" y2="200.75" stroke="#a6a6a6" stroke-width="0.5"/>
<line x1="93.43" x2="93.43" y1="193.88" y2="200.75" stroke="#a6a6a6" stroke-width="0.5"/>
<line x1="104.87" x2="104.87" y1="193.88" y2="200.75" stroke="#a6a6a6" stroke-width="0.5"/>
<line x1="116.31" x2="116.31" y1="193.88" y2="200.75" stroke="#a6a6a6" stroke-width="0.5"/>
<line x1="127.76" x2="127.76" y1="193.88" y2="200.75" stroke="#a6a6a6" stroke-width="0.5"/>
<line x1="139.2" x2="139.2" y1="193.88" y2="200.75" stroke="#a6a6a6" stroke-width="0.5"/>
<line x1="150.64" x2="150.64" y1="193.88" y2="200.75" stroke="#a6a6a6" stroke-width="0.5"/>
<line x1="162.08" x2="162.08" y1="193.88" y2="200.75" stroke="#a6a6a6" stroke-width="0.5"/>
<line x1="173.53" x2="173.53" y1="193.88" y2="200.75" stroke="#a6a6a6" stroke-width="0.5"/>
<line x1="196.41" x2="196.41" y1="193.88" y2="200.75" stroke="#a6a6a6" stroke-width="0.5"/>
<line x1="219.29" x2="219.29" y1="193.88" y2="200.75" stroke="#a6a6a6" stroke-width="0.5"/>
<line x1="242.18" x2="242.18" y1="193.88" y2="200.75" stroke="#a6a6a6" stroke-width="0.5"/>
<line x1="59.1" x2="287.95" y1="197.05" y2="197.05" stroke="#000" stroke-width="1.2" stroke-dasharray="1.7 1.7"/>
<g clip-path="url(#rclip)">
<line x1="64.82" x2="64.82" y1="188.47" y2="206.95" stroke="#000" stroke-width="1.1"/>
<circle cx="64.82" cy="197.71" r="2.05" fill="#000"/>
<line x1="76.26" x2="76.26" y1="186.49" y2="194.41" stroke="#000" stroke-width="1.1"/>
<circle cx="76.26" cy="190.45" r="2.05" fill="#000"/>
<line x1="87.71" x2="87.71" y1="194.08" y2="201.34" stroke="#000" stroke-width="1.1"/>
<circle cx="87.71" cy="197.71" r="2.05" fill="#000"/>
<line x1="99.15" x2="99.15" y1="200.35" y2="206.95" stroke="#000" stroke-width="1.1"/>
<circle cx="99.15" cy="203.65" r="2.05" fill="#000"/>
<line x1="110.59" x2="110.59" y1="199.56" y2="206.42" stroke="#000" stroke-width="1.1"/>
<circle cx="110.59" cy="202.99" r="2.05" fill="#000"/>
<line x1="122.03" x2="122.03" y1="193.42" y2="200.68" stroke="#000" stroke-width="1.1"/>
<circle cx="122.03" cy="197.05" r="2.05" fill="#000"/>
<line x1="133.48" x2="133.48" y1="199.03" y2="206.29" stroke="#000" stroke-width="1.1"/>
<circle cx="133.48" cy="202.66" r="2.05" fill="#000"/>
<line x1="144.92" x2="144.92" y1="194.41" y2="202.33" stroke="#000" stroke-width="1.1"/>
<circle cx="144.92" cy="198.37" r="2.05" fill="#000"/>
<line x1="156.36" x2="156.36" y1="190.12" y2="198.04" stroke="#000" stroke-width="1.1"/>
<circle cx="156.36" cy="194.08" r="2.05" fill="#000"/>
<line x1="167.8" x2="167.8" y1="198.17" y2="206.49" stroke="#000" stroke-width="1.1"/>
<circle cx="167.8" cy="202.33" r="2.05" fill="#000"/>
<line x1="184.97" x2="184.97" y1="194.41" y2="202.33" stroke="#000" stroke-width="1.1"/>
<circle cx="184.97" cy="198.37" r="2.05" fill="#000"/>
<line x1="207.85" x2="207.85" y1="192.43" y2="200.35" stroke="#000" stroke-width="1.1"/>
<circle cx="207.85" cy="196.39" r="2.05" fill="#000"/>
<line x1="230.74" x2="230.74" y1="193.42" y2="204.64" stroke="#000" stroke-width="1.1"/>
<circle cx="230.74" cy="199.03" r="2.05" fill="#000"/>
<line x1="265.06" x2="265.06" y1="199.36" y2="215.2" stroke="#000" stroke-width="1.1"/>
<circle cx="265.06" cy="207.28" r="2.05" fill="#000"/>
</g>
<path d="M59.1 6v4.2M59.1 170v-4.2M59.1 179.6v3M59.1 213.9v-3M70.54 6v2.2M70.54 170v-2.2M70.54 179.6v1.6M70.54 213.9v-1.6M81.98 6v2.2M81.98 170v-2.2M81.98 179.6v1.6M81.98 213.9v-1.6M93.43 6v2.2M93.43 170v-2.2M93.43 179.6v1.6M93.43 213.9v-1.6M104.87 6v4.2M104.87 170v-4.2M104.87 179.6v3M104.87 213.9v-3M116.31 6v2.2M116.31 170v-2.2M116.31 179.6v1.6M116.31 213.9v-1.6M127.76 6v2.2M127.76 170v-2.2M127.76 179.6v1.6M127.76 213.9v-1.6M139.2 6v2.2M139.2 170v-2.2M139.2 179.6v1.6M139.2 213.9v-1.6M150.64 6v4.2M150.64 170v-4.2M150.64 179.6v3M150.64 213.9v-3M162.08 6v2.2M162.08 170v-2.2M162.08 179.6v1.6M162.08 213.9v-1.6M173.53 6v2.2M173.53 170v-2.2M173.53 179.6v1.6M173.53 213.9v-1.6M184.97 6v2.2M184.97 170v-2.2M184.97 179.6v1.6M184.97 213.9v-1.6M196.41 6v4.2M196.41 170v-4.2M196.41 179.6v3M196.41 213.9v-3M207.85 6v2.2M207.85 170v-2.2M207.85 179.6v1.6M207.85 213.9v-1.6M219.3 6v2.2M219.3 170v-2.2M219.3 179.6v1.6M219.3 213.9v-1.6M230.74 6v2.2M230.74 170v-2.2M230.74 179.6v1.6M230.74 213.9v-1.6M242.18 6v4.2M242.18 170v-4.2M242.18 179.6v3M242.18 213.9v-3M253.62 6v2.2M253.62 170v-2.2M253.62 179.6v1.6M253.62 213.9v-1.6M265.06 6v2.2M265.06 170v-2.2M265.06 179.6v1.6M265.06 213.9v-1.6M276.51 6v2.2M276.51 170v-2.2M276.51 179.6v1.6M276.51 213.9v-1.6M287.95 6v4.2M287.95 170v-4.2M287.95 179.6v3M287.95 213.9v-3M59.1 170.75h5.2M287.95 170.75h-5.2M59.1 156.82h2.9M287.95 156.82h-2.9M59.1 142.9h2.9M287.95 142.9h-2.9M59.1 128.97h2.9M287.95 128.97h-2.9M59.1 115.05h5.2M287.95 115.05h-5.2M59.1 101.12h2.9M287.95 101.12h-2.9M59.1 87.2h2.9M287.95 87.2h-2.9M59.1 73.27h2.9M287.95 73.27h-2.9M59.1 59.35h5.2M287.95 59.35h-5.2M59.1 45.42h2.9M287.95 45.42h-2.9M59.1 31.5h2.9M287.95 31.5h-2.9M59.1 17.57h2.9M287.95 17.57h-2.9M59.1 210.25h4.2M287.95 210.25h-4.2M59.1 203.65h2.2M287.95 203.65h-2.2M59.1 197.05h4.2M287.95 197.05h-4.2M59.1 190.45h2.2M287.95 190.45h-2.2M59.1 183.85h4.2M287.95 183.85h-4.2" stroke="#000" stroke-width="1.1" fill="none"/>
<rect x="59.1" y="6" width="228.85" height="164" fill="none" stroke="#000" stroke-width="1.65"/>
<rect x="59.1" y="179.6" width="228.85" height="34.3" fill="none" stroke="#000" stroke-width="1.65"/>
<text x="54.2" y="176.35" font-size="11.2" text-anchor="end">0</text>
<text x="54.2" y="120.65" font-size="11.2" text-anchor="end">200</text>
<text x="54.2" y="64.95" font-size="11.2" text-anchor="end">400</text>
<text x="54.2" y="188.35" font-size="11.2" text-anchor="end">1.2</text>
<text x="54.2" y="201.55" font-size="11.2" text-anchor="end">1</text>
<text x="54.2" y="214.75" font-size="11.2" text-anchor="end">0.8</text>
<text x="58.8" y="227.3" font-size="11.3" text-anchor="middle">0</text>
<text x="104.57" y="227.3" font-size="11.3" text-anchor="middle">0.2</text>
<text x="150.34" y="227.3" font-size="11.3" text-anchor="middle">0.4</text>
<text x="196.11" y="227.3" font-size="11.3" text-anchor="middle">0.6</text>
<text x="241.88" y="227.3" font-size="11.3" text-anchor="middle">0.8</text>
<text x="288.55" y="227.3" font-size="11.3" text-anchor="middle">1</text>
<text transform="translate(11.3,14.9) rotate(-90)" font-size="13.3" text-anchor="end">Events / 0.05</text>
<text transform="translate(11.2,196.6) rotate(-90)" font-size="12.9" text-anchor="middle">Data</text>
<line x1="13.9" x2="13.9" y1="180.6" y2="212.4" stroke="#777" stroke-width="1.2"/>
<text transform="translate(25.4,196.2) rotate(-90)" font-size="12.9" text-anchor="middle">Pred.</text>
<text x="265.9" y="241.7" font-size="12.6" font-style="italic">o</text>
<text x="273.3" y="245.8" font-size="9.1">NN</text>
<text x="175.3" y="265" font-size="15.8" font-weight="bold" text-anchor="middle" font-family="'Liberation Serif', 'Times New Roman', serif">(c)</text>
<text x="68.5" y="22.5" font-size="10.5" font-style="italic" font-weight="bold" letter-spacing="0.15">ATLAS</text>
<text x="68.2" y="35.6" font-size="10.5" font-style="italic">l</text>
<text x="72.7" y="33.5" font-size="9.6">+</text>
<text x="81.8" y="35.6" font-size="10.7" font-style="italic">t</text>
<text x="85" y="35.6" font-size="10.7" font-style="italic">t</text>
<text x="91.8" y="35.6" font-size="10.5">VR</text>
<line x1="85.8" x2="89" y1="27" y2="27" stroke="#000" stroke-width="0.95"/>
<text transform="translate(195.0,24.2) scale(0.66,1.12)" font-size="11.5">√</text>
<line x1="199.3" x2="203.8" y1="14.35" y2="14.35" stroke="#000" stroke-width="0.8"/>
<text x="198.3" y="22.7" font-size="10.5">s=8 TeV, 20.2 fb</text>
<text x="274.5" y="18" font-size="6.6">-1</text>
<line x1="204.7" x2="204.7" y1="33.6" y2="40.8" stroke="#000" stroke-width="1.1"/>
<circle cx="204.7" cy="37.2" r="2.05" fill="#000"/>
<text x="214.5" y="39.7" font-size="9.25">Data</text>
<rect x="197.8" y="44.1" width="13.8" height="7.0" fill="#3797d5" stroke="#2a2ab4" stroke-width="0.95"/>
<rect x="197.8" y="54.55" width="13.8" height="7.0" fill="#ff3535" stroke="#2a2ab4" stroke-width="0.95"/>
<rect x="197.8" y="65" width="13.8" height="7.0" fill="#33cc33" stroke="#2a2ab4" stroke-width="0.95"/>
<rect x="197.8" y="75.45" width="13.8" height="7.0" fill="#ff9a33" stroke="#2a2ab4" stroke-width="0.95"/>
<rect x="197.8" y="85.9" width="13.8" height="7.0" fill="#990099" stroke="#2a2ab4" stroke-width="0.95"/>
<rect x="198.4" y="97.05" width="12.6" height="5.6" fill="url(#hatch)"/>
<text x="214.5" y="49.95" font-size="9.25" font-style="italic">tq</text>
<text x="214.5" y="60.4" font-size="9.25" font-style="italic" letter-spacing="0.2">t<tspan dx="0.5">t</tspan><tspan dx="0.3">,Wt,t</tspan><tspan dx="0.5">b</tspan></text>
<line x1="218.6" x2="221.2" y1="53.1" y2="53.1" stroke="#000" stroke-width="0.75"/>
<line x1="241.6" x2="246.6" y1="52.8" y2="52.8" stroke="#000" stroke-width="0.75"/>
<text x="214.4" y="70.85" font-size="9.8" font-style="italic">W</text>
<text x="225.2" y="67.45" font-size="8" font-weight="bold">+</text>
<text x="230.4" y="70.85" font-size="9.25">+jets</text>
<text x="214.5" y="81.3" font-size="9.25"><tspan font-style="italic">Z</tspan><tspan dx="0.8">,</tspan><tspan font-style="italic">VV</tspan><tspan dx="1.4">+jets</tspan></text>
<text x="214.5" y="91.75" font-size="9.25">Multijet</text>
<text x="214.5" y="102.2" font-size="9.25">Uncertainty</text>
</g>
<g transform="translate(317,286)">
<polygon points="59.1,170 59.1,155 70.54,155 70.54,82.1 81.98,82.1 81.98,50.4 93.43,50.4 93.43,50.4 104.87,50.4 104.87,61.5 116.31,61.5 116.31,74 127.76,74 127.76,82.7 139.2,82.7 139.2,91.5 150.64,91.5 150.64,100.8 162.08,100.8 162.08,109.2 173.53,109.2 173.53,120.9 196.41,120.9 196.41,135.8 219.29,135.8 219.29,150.1 242.18,150.1 242.18,166 287.95,166 287.95,170" fill="#3797d5"/>
<path d="M59.1 170V155H70.54V82.1H81.98V50.4H93.43V50.4H104.87V61.5H116.31V74H127.76V82.7H139.2V91.5H150.64V100.8H162.08V109.2H173.53V120.9H196.41V135.8H219.29V150.1H242.18V166H287.95V170" fill="none" stroke="#1515a6" stroke-width="0.8"/>
<polygon points="59.1,170 59.1,155.7 70.54,155.7 70.54,84.4 81.98,84.4 81.98,55.4 93.43,55.4 93.43,57.2 104.87,57.2 104.87,68.9 116.31,68.9 116.31,81.8 127.76,81.8 127.76,90.2 139.2,90.2 139.2,98.8 150.64,98.8 150.64,107.6 162.08,107.6 162.08,115.2 173.53,115.2 173.53,125.6 196.41,125.6 196.41,139.4 219.29,139.4 219.29,152.6 242.18,152.6 242.18,167.2 287.95,167.2 287.95,170" fill="#ff3535"/>
<path d="M59.1 170V155.7H70.54V84.4H81.98V55.4H93.43V57.2H104.87V68.9H116.31V81.8H127.76V90.2H139.2V98.8H150.64V107.6H162.08V115.2H173.53V125.6H196.41V139.4H219.29V152.6H242.18V167.2H287.95V170" fill="none" stroke="#1515a6" stroke-width="0.8"/>
<polygon points="59.1,170 59.1,167 70.54,167 70.54,155 81.98,155 81.98,147.9 93.43,147.9 93.43,145.4 104.87,145.4 104.87,150 116.31,150 116.31,154.5 127.76,154.5 127.76,156.8 139.2,156.8 139.2,158.8 150.64,158.8 150.64,160.8 162.08,160.8 162.08,163 173.53,163 173.53,163.9 196.41,163.9 196.41,166.5 219.29,166.5 219.29,168.6 242.18,168.6 242.18,169.7 287.95,169.7 287.95,170" fill="#33cc33"/>
<path d="M59.1 170V167H70.54V155H81.98V147.9H93.43V145.4H104.87V150H116.31V154.5H127.76V156.8H139.2V158.8H150.64V160.8H162.08V163H173.53V163.9H196.41V166.5H219.29V168.6H242.18V169.7H287.95V170" fill="none" stroke="#1515a6" stroke-width="0.8"/>
<polygon points="59.1,170 59.1,168.5 70.54,168.5 70.54,163.3 81.98,163.3 81.98,159.3 93.43,159.3 93.43,160 104.87,160 104.87,162.2 116.31,162.2 116.31,163.8 127.76,163.8 127.76,164.6 139.2,164.6 139.2,165.2 150.64,165.2 150.64,165.7 162.08,165.7 162.08,166.5 173.53,166.5 173.53,168 196.41,168 196.41,168.8 219.29,168.8 219.29,169.5 242.18,169.5 242.18,169.9 287.95,169.9 287.95,170" fill="#ff9a33"/>
<path d="M59.1 170V168.5H70.54V163.3H81.98V159.3H93.43V160H104.87V162.2H116.31V163.8H127.76V164.6H139.2V165.2H150.64V165.7H162.08V166.5H173.53V168H196.41V168.8H219.29V169.5H242.18V169.9H287.95V170" fill="none" stroke="#1515a6" stroke-width="0.8"/>
<polygon points="59.1,170 59.1,168.9 70.54,168.9 70.54,163.8 81.98,163.8 81.98,160.8 93.43,160.8 93.43,161.3 104.87,161.3 104.87,163 116.31,163 116.31,164.3 127.76,164.3 127.76,165 139.2,165 139.2,165.6 150.64,165.6 150.64,166 162.08,166 162.08,166.8 173.53,166.8 173.53,168.4 196.41,168.4 196.41,169.1 219.29,169.1 219.29,169.7 242.18,169.7 242.18,170 287.95,170 287.95,170" fill="#990099"/>
<path d="M59.1 170V168.9H70.54V163.8H81.98V160.8H93.43V161.3H104.87V163H116.31V164.3H127.76V165H139.2V165.6H150.64V166H162.08V166.8H173.53V168.4H196.41V169.1H219.29V169.7H242.18V170H287.95V170" fill="none" stroke="#1515a6" stroke-width="0.8"/>
<rect x="59.1" y="153.87" width="11.44" height="2.27" fill="url(#hatch)"/>
<rect x="70.54" y="77.41" width="11.44" height="9.66" fill="url(#hatch)"/>
<rect x="81.98" y="44.04" width="11.44" height="13.1" fill="url(#hatch)"/>
<rect x="93.43" y="44.04" width="11.44" height="13.1" fill="url(#hatch)"/>
<rect x="104.87" y="55.73" width="11.44" height="11.9" fill="url(#hatch)"/>
<rect x="116.31" y="68.89" width="11.44" height="10.54" fill="url(#hatch)"/>
<rect x="127.76" y="78.05" width="11.44" height="9.59" fill="url(#hatch)"/>
<rect x="139.2" y="87.31" width="11.44" height="8.63" fill="url(#hatch)"/>
<rect x="150.64" y="97.1" width="11.44" height="7.62" fill="url(#hatch)"/>
<rect x="162.08" y="105.94" width="11.44" height="6.71" fill="url(#hatch)"/>
<rect x="173.53" y="118.26" width="22.88" height="5.43" fill="url(#hatch)"/>
<rect x="196.41" y="133.95" width="22.88" height="3.81" fill="url(#hatch)"/>
<rect x="219.29" y="149" width="22.89" height="2.26" fill="url(#hatch)"/>
<rect x="242.18" y="165.69" width="45.77" height="0.63" fill="url(#hatch)"/>
<line x1="64.82" x2="64.82" y1="152.62" y2="157.38" stroke="#1a1a9c" stroke-width="1"/>
<circle cx="64.82" cy="155" r="2.05" fill="#000"/>
<line x1="76.26" x2="76.26" y1="80.24" y2="90.18" stroke="#1a1a9c" stroke-width="1"/>
<circle cx="76.26" cy="85.21" r="2.05" fill="#000"/>
<line x1="87.71" x2="87.71" y1="51.36" y2="64.85" stroke="#1a1a9c" stroke-width="1"/>
<circle cx="87.71" cy="58.11" r="2.05" fill="#000"/>
<line x1="99.15" x2="99.15" y1="44.74" y2="59.19" stroke="#1a1a9c" stroke-width="1"/>
<circle cx="99.15" cy="51.97" r="2.05" fill="#000"/>
<line x1="110.59" x2="110.59" y1="58" y2="69.37" stroke="#1a1a9c" stroke-width="1"/>
<circle cx="110.59" cy="63.69" r="2.05" fill="#000"/>
<line x1="122.03" x2="122.03" y1="70.32" y2="80.59" stroke="#1a1a9c" stroke-width="1"/>
<circle cx="122.03" cy="75.45" r="2.05" fill="#000"/>
<line x1="133.48" x2="133.48" y1="68.51" y2="78.38" stroke="#1a1a9c" stroke-width="1"/>
<circle cx="133.48" cy="73.44" r="2.05" fill="#000"/>
<line x1="144.92" x2="144.92" y1="86.74" y2="97.05" stroke="#1a1a9c" stroke-width="1"/>
<circle cx="144.92" cy="91.9" r="2.05" fill="#000"/>
<line x1="156.36" x2="156.36" y1="102.9" y2="111.31" stroke="#1a1a9c" stroke-width="1"/>
<circle cx="156.36" cy="107.1" r="2.05" fill="#000"/>
<line x1="167.8" x2="167.8" y1="110.25" y2="118.02" stroke="#1a1a9c" stroke-width="1"/>
<circle cx="167.8" cy="114.13" r="2.05" fill="#000"/>
<line x1="184.97" x2="184.97" y1="116.4" y2="122.4" stroke="#1a1a9c" stroke-width="1"/>
<circle cx="184.97" cy="119.4" r="2.05" fill="#000"/>
<line x1="207.85" x2="207.85" y1="138.01" y2="142.35" stroke="#1a1a9c" stroke-width="1"/>
<circle cx="207.85" cy="140.18" r="2.05" fill="#000"/>
<line x1="230.74" x2="230.74" y1="147.82" y2="151.55" stroke="#1a1a9c" stroke-width="1"/>
<circle cx="230.74" cy="149.69" r="2.05" fill="#000"/>
<circle cx="265.06" cy="165.42" r="2.05" fill="#000"/>
<rect x="59.1" y="179.6" width="228.85" height="34.3" fill="#fff"/>
<polygon points="59.1,192.76 70.54,192.76 70.54,193.88 81.98,193.88 81.98,193.88 93.43,193.88 93.43,193.88 104.87,193.88 104.87,193.88 116.31,193.88 116.31,193.88 127.76,193.88 127.76,193.88 139.2,193.88 139.2,193.88 150.64,193.88 150.64,193.88 162.08,193.88 162.08,193.88 173.53,193.88 173.53,193.88 196.41,193.88 196.41,193.88 219.29,193.88 219.29,193.88 242.18,193.88 242.18,193.22 287.95,193.22 287.95,201.41 242.18,201.41 242.18,200.75 219.29,200.75 219.29,200.75 196.41,200.75 196.41,200.75 173.53,200.75 173.53,200.75 162.08,200.75 162.08,200.75 150.64,200.75 150.64,200.75 139.2,200.75 139.2,200.75 127.76,200.75 127.76,200.75 116.31,200.75 116.31,200.75 104.87,200.75 104.87,200.75 93.43,200.75 93.43,200.75 81.98,200.75 81.98,200.75 70.54,200.75 70.54,201.8 59.1,201.8" fill="#999"/>
<line x1="70.54" x2="70.54" y1="193.88" y2="200.75" stroke="#a6a6a6" stroke-width="0.5"/>
<line x1="81.98" x2="81.98" y1="193.88" y2="200.75" stroke="#a6a6a6" stroke-width="0.5"/>
<line x1="93.43" x2="93.43" y1="193.88" y2="200.75" stroke="#a6a6a6" stroke-width="0.5"/>
<line x1="104.87" x2="104.87" y1="193.88" y2="200.75" stroke="#a6a6a6" stroke-width="0.5"/>
<line x1="116.31" x2="116.31" y1="193.88" y2="200.75" stroke="#a6a6a6" stroke-width="0.5"/>
<line x1="127.76" x2="127.76" y1="193.88" y2="200.75" stroke="#a6a6a6" stroke-width="0.5"/>
<line x1="139.2" x2="139.2" y1="193.88" y2="200.75" stroke="#a6a6a6" stroke-width="0.5"/>
<line x1="150.64" x2="150.64" y1="193.88" y2="200.75" stroke="#a6a6a6" stroke-width="0.5"/>
<line x1="162.08" x2="162.08" y1="193.88" y2="200.75" stroke="#a6a6a6" stroke-width="0.5"/>
<line x1="173.53" x2="173.53" y1="193.88" y2="200.75" stroke="#a6a6a6" stroke-width="0.5"/>
<line x1="196.41" x2="196.41" y1="193.88" y2="200.75" stroke="#a6a6a6" stroke-width="0.5"/>
<line x1="219.29" x2="219.29" y1="193.88" y2="200.75" stroke="#a6a6a6" stroke-width="0.5"/>
<line x1="242.18" x2="242.18" y1="193.88" y2="200.75" stroke="#a6a6a6" stroke-width="0.5"/>
<line x1="59.1" x2="287.95" y1="197.05" y2="197.05" stroke="#000" stroke-width="1.2" stroke-dasharray="1.7 1.7"/>
<g clip-path="url(#rclip)">
<line x1="64.82" x2="64.82" y1="187.15" y2="206.95" stroke="#000" stroke-width="1.1"/>
<circle cx="64.82" cy="197.05" r="2.05" fill="#000"/>
<line x1="76.26" x2="76.26" y1="195.66" y2="203.06" stroke="#000" stroke-width="1.1"/>
<circle cx="76.26" cy="199.36" r="2.05" fill="#000"/>
<line x1="87.71" x2="87.71" y1="197.58" y2="204.97" stroke="#000" stroke-width="1.1"/>
<circle cx="87.71" cy="201.27" r="2.05" fill="#000"/>
<line x1="99.15" x2="99.15" y1="193.95" y2="201.87" stroke="#000" stroke-width="1.1"/>
<circle cx="99.15" cy="197.91" r="2.05" fill="#000"/>
<line x1="110.59" x2="110.59" y1="194.94" y2="201.8" stroke="#000" stroke-width="1.1"/>
<circle cx="110.59" cy="198.37" r="2.05" fill="#000"/>
<line x1="122.03" x2="122.03" y1="194.54" y2="201.54" stroke="#000" stroke-width="1.1"/>
<circle cx="122.03" cy="198.04" r="2.05" fill="#000"/>
<line x1="133.48" x2="133.48" y1="186.42" y2="193.82" stroke="#000" stroke-width="1.1"/>
<circle cx="133.48" cy="190.12" r="2.05" fill="#000"/>
<line x1="144.92" x2="144.92" y1="193.09" y2="201.67" stroke="#000" stroke-width="1.1"/>
<circle cx="144.92" cy="197.38" r="2.05" fill="#000"/>
<line x1="156.36" x2="156.36" y1="199.03" y2="206.95" stroke="#000" stroke-width="1.1"/>
<circle cx="156.36" cy="202.99" r="2.05" fill="#000"/>
<line x1="167.8" x2="167.8" y1="198.17" y2="206.49" stroke="#000" stroke-width="1.1"/>
<circle cx="167.8" cy="202.33" r="2.05" fill="#000"/>
<line x1="184.97" x2="184.97" y1="191.11" y2="199.03" stroke="#000" stroke-width="1.1"/>
<circle cx="184.97" cy="195.07" r="2.05" fill="#000"/>
<line x1="207.85" x2="207.85" y1="201.21" y2="209.39" stroke="#000" stroke-width="1.1"/>
<circle cx="207.85" cy="205.3" r="2.05" fill="#000"/>
<line x1="230.74" x2="230.74" y1="189.79" y2="201.67" stroke="#000" stroke-width="1.1"/>
<circle cx="230.74" cy="195.73" r="2.05" fill="#000"/>
<line x1="265.06" x2="265.06" y1="179.23" y2="199.03" stroke="#000" stroke-width="1.1"/>
<circle cx="265.06" cy="189.13" r="2.05" fill="#000"/>
</g>
<path d="M59.1 6v4.2M59.1 170v-4.2M59.1 179.6v3M59.1 213.9v-3M70.54 6v2.2M70.54 170v-2.2M70.54 179.6v1.6M70.54 213.9v-1.6M81.98 6v2.2M81.98 170v-2.2M81.98 179.6v1.6M81.98 213.9v-1.6M93.43 6v2.2M93.43 170v-2.2M93.43 179.6v1.6M93.43 213.9v-1.6M104.87 6v4.2M104.87 170v-4.2M104.87 179.6v3M104.87 213.9v-3M116.31 6v2.2M116.31 170v-2.2M116.31 179.6v1.6M116.31 213.9v-1.6M127.76 6v2.2M127.76 170v-2.2M127.76 179.6v1.6M127.76 213.9v-1.6M139.2 6v2.2M139.2 170v-2.2M139.2 179.6v1.6M139.2 213.9v-1.6M150.64 6v4.2M150.64 170v-4.2M150.64 179.6v3M150.64 213.9v-3M162.08 6v2.2M162.08 170v-2.2M162.08 179.6v1.6M162.08 213.9v-1.6M173.53 6v2.2M173.53 170v-2.2M173.53 179.6v1.6M173.53 213.9v-1.6M184.97 6v2.2M184.97 170v-2.2M184.97 179.6v1.6M184.97 213.9v-1.6M196.41 6v4.2M196.41 170v-4.2M196.41 179.6v3M196.41 213.9v-3M207.85 6v2.2M207.85 170v-2.2M207.85 179.6v1.6M207.85 213.9v-1.6M219.3 6v2.2M219.3 170v-2.2M219.3 179.6v1.6M219.3 213.9v-1.6M230.74 6v2.2M230.74 170v-2.2M230.74 179.6v1.6M230.74 213.9v-1.6M242.18 6v4.2M242.18 170v-4.2M242.18 179.6v3M242.18 213.9v-3M253.62 6v2.2M253.62 170v-2.2M253.62 179.6v1.6M253.62 213.9v-1.6M265.06 6v2.2M265.06 170v-2.2M265.06 179.6v1.6M265.06 213.9v-1.6M276.51 6v2.2M276.51 170v-2.2M276.51 179.6v1.6M276.51 213.9v-1.6M287.95 6v4.2M287.95 170v-4.2M287.95 179.6v3M287.95 213.9v-3M59.1 170.85h5.2M287.95 170.85h-5.2M59.1 155.75h2.9M287.95 155.75h-2.9M59.1 140.65h2.9M287.95 140.65h-2.9M59.1 125.55h2.9M287.95 125.55h-2.9M59.1 110.45h5.2M287.95 110.45h-5.2M59.1 95.35h2.9M287.95 95.35h-2.9M59.1 80.25h2.9M287.95 80.25h-2.9M59.1 65.15h2.9M287.95 65.15h-2.9M59.1 50.05h5.2M287.95 50.05h-5.2M59.1 34.95h2.9M287.95 34.95h-2.9M59.1 19.85h2.9M287.95 19.85h-2.9M59.1 210.25h4.2M287.95 210.25h-4.2M59.1 203.65h2.2M287.95 203.65h-2.2M59.1 197.05h4.2M287.95 197.05h-4.2M59.1 190.45h2.2M287.95 190.45h-2.2M59.1 183.85h4.2M287.95 183.85h-4.2" stroke="#000" stroke-width="1.1" fill="none"/>
<rect x="59.1" y="6" width="228.85" height="164" fill="none" stroke="#000" stroke-width="1.65"/>
<rect x="59.1" y="179.6" width="228.85" height="34.3" fill="none" stroke="#000" stroke-width="1.65"/>
<text x="54.2" y="176.45" font-size="11.2" text-anchor="end">0</text>
<text x="54.2" y="116.05" font-size="11.2" text-anchor="end">200</text>
<text x="54.2" y="55.65" font-size="11.2" text-anchor="end">400</text>
<text x="54.2" y="188.35" font-size="11.2" text-anchor="end">1.2</text>
<text x="54.2" y="201.55" font-size="11.2" text-anchor="end">1</text>
<text x="54.2" y="214.75" font-size="11.2" text-anchor="end">0.8</text>
<text x="58.8" y="227.3" font-size="11.3" text-anchor="middle">0</text>
<text x="104.57" y="227.3" font-size="11.3" text-anchor="middle">0.2</text>
<text x="150.34" y="227.3" font-size="11.3" text-anchor="middle">0.4</text>
<text x="196.11" y="227.3" font-size="11.3" text-anchor="middle">0.6</text>
<text x="241.88" y="227.3" font-size="11.3" text-anchor="middle">0.8</text>
<text x="288.55" y="227.3" font-size="11.3" text-anchor="middle">1</text>
<text transform="translate(11.3,14.9) rotate(-90)" font-size="13.3" text-anchor="end">Events / 0.05</text>
<text transform="translate(11.2,196.6) rotate(-90)" font-size="12.9" text-anchor="middle">Data</text>
<line x1="13.9" x2="13.9" y1="180.6" y2="212.4" stroke="#777" stroke-width="1.2"/>
<text transform="translate(25.4,196.2) rotate(-90)" font-size="12.9" text-anchor="middle">Pred.</text>
<text x="265.9" y="241.7" font-size="12.6" font-style="italic">o</text>
<text x="273.3" y="245.8" font-size="9.1">NN</text>
<text x="175.3" y="265" font-size="15.8" font-weight="bold" text-anchor="middle" font-family="'Liberation Serif', 'Times New Roman', serif">(d)</text>
<text x="68.5" y="22.5" font-size="10.5" font-style="italic" font-weight="bold" letter-spacing="0.15">ATLAS</text>
<text x="68.2" y="35.6" font-size="10.5" font-style="italic">l</text>
<text x="71.2" y="31.5" font-size="7.2" font-weight="bold">−</text>
<text x="79.4" y="35.6" font-size="10.7" font-style="italic">t</text>
<text x="82.7" y="35.6" font-size="10.7" font-style="italic">t</text>
<text x="89.3" y="35.6" font-size="10.5">VR</text>
<line x1="83.5" x2="86.8" y1="27" y2="27" stroke="#000" stroke-width="0.95"/>
<text transform="translate(195.0,24.2) scale(0.66,1.12)" font-size="11.5">√</text>
<line x1="199.3" x2="203.8" y1="14.35" y2="14.35" stroke="#000" stroke-width="0.8"/>
<text x="198.3" y="22.7" font-size="10.5">s=8 TeV, 20.2 fb</text>
<text x="274.5" y="18" font-size="6.6">-1</text>
<line x1="204.7" x2="204.7" y1="33.6" y2="40.8" stroke="#000" stroke-width="1.1"/>
<circle cx="204.7" cy="37.2" r="2.05" fill="#000"/>
<text x="214.5" y="39.7" font-size="9.25">Data</text>
<rect x="197.8" y="44.1" width="13.8" height="7.0" fill="#3797d5" stroke="#2a2ab4" stroke-width="0.95"/>
<rect x="197.8" y="54.55" width="13.8" height="7.0" fill="#ff3535" stroke="#2a2ab4" stroke-width="0.95"/>
<rect x="197.8" y="65" width="13.8" height="7.0" fill="#33cc33" stroke="#2a2ab4" stroke-width="0.95"/>
<rect x="197.8" y="75.45" width="13.8" height="7.0" fill="#ff9a33" stroke="#2a2ab4" stroke-width="0.95"/>
<rect x="197.8" y="85.9" width="13.8" height="7.0" fill="#990099" stroke="#2a2ab4" stroke-width="0.95"/>
<rect x="198.4" y="97.05" width="12.6" height="5.6" fill="url(#hatch)"/>
<text x="214.5" y="49.95" font-size="9.25" font-style="italic">tq</text>
<line x1="215.2" x2="217.9" y1="42.65" y2="42.65" stroke="#000" stroke-width="0.75"/>
<text x="214.5" y="60.4" font-size="9.25" font-style="italic" letter-spacing="0.2">t<tspan dx="0.5">t</tspan><tspan dx="0.3">,Wt,t</tspan><tspan dx="0.5">b</tspan></text>
<line x1="218.6" x2="221.2" y1="53.1" y2="53.1" stroke="#000" stroke-width="0.75"/>
<line x1="238.0" x2="240.8" y1="53.1" y2="53.1" stroke="#000" stroke-width="0.75"/>
<text x="214.4" y="70.85" font-size="9.8" font-style="italic">W</text>
<text x="225" y="66.25" font-size="6.6" font-weight="bold">−</text>
<text x="228.6" y="70.85" font-size="9.25">+jets</text>
<text x="214.5" y="81.3" font-size="9.25"><tspan font-style="italic">Z</tspan><tspan dx="0.8">,</tspan><tspan font-style="italic">VV</tspan><tspan dx="1.4">+jets</tspan></text>
<text x="214.5" y="91.75" font-size="9.25">Multijet</text>
<text x="214.5" y="102.2" font-size="9.25">Uncertainty</text>
</g>
</svg>
</body>
</html>
